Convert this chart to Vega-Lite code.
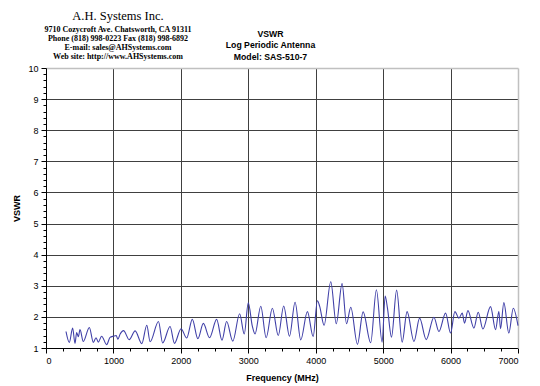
{
  "$schema": "https://vega.github.io/schema/vega-lite/v6.json",
  "width": 472,
  "height": 280,
  "autosize": {"type": "none"},
  "padding": {"left": 46, "top": 68, "right": 22, "bottom": 38},
  "background": "white",
  "config": {
    "view": {"stroke": null},
    "axis": {"labelFont": "Liberation Sans", "titleFont": "Liberation Sans", "labelColor": "#000000", "titleColor": "#000000"}
  },
  "title": {
    "text": "A.H. Systems Inc.",
    "subtitle": ["9710 Cozycroft Ave. Chatsworth, CA 91311", "Phone (818) 998-0223 Fax (818) 998-6892", "E-mail: sales@AHSystems.com", "Web site: http://www.AHSystems.com"],
    "anchor": "start",
    "align": "center",
    "frame": "group",
    "dx": 72,
    "dy": 36,
    "font": "Liberation Serif",
    "fontSize": 12.5,
    "fontWeight": "normal",
    "color": "#000000",
    "subtitleFont": "Liberation Serif",
    "subtitleFontSize": 8,
    "subtitleFontWeight": "bold",
    "subtitleColor": "#000000",
    "subtitleLineHeight": 9,
    "subtitlePadding": 4
  },
  "data": {
    "values": [
      {"f": 297, "v": 1.53}, {"f": 346, "v": 1.18}, {"f": 395, "v": 1.64}, {"f": 430, "v": 1.15},
      {"f": 455, "v": 1.50}, {"f": 480, "v": 1.36}, {"f": 504, "v": 1.59}, {"f": 553, "v": 1.21},
      {"f": 643, "v": 1.66}, {"f": 702, "v": 1.18}, {"f": 742, "v": 1.33}, {"f": 776, "v": 1.19},
      {"f": 825, "v": 1.38}, {"f": 900, "v": 1.11}, {"f": 949, "v": 1.34}, {"f": 1002, "v": 1.38},
      {"f": 1041, "v": 1.40}, {"f": 1066, "v": 1.28}, {"f": 1100, "v": 1.45}, {"f": 1150, "v": 1.56},
      {"f": 1234, "v": 1.27}, {"f": 1322, "v": 1.55}, {"f": 1421, "v": 1.14}, {"f": 1495, "v": 1.73},
      {"f": 1544, "v": 1.20}, {"f": 1668, "v": 1.85}, {"f": 1730, "v": 1.16}, {"f": 1840, "v": 1.69},
      {"f": 1905, "v": 1.15}, {"f": 2003, "v": 1.62}, {"f": 2087, "v": 1.32}, {"f": 2170, "v": 1.92},
      {"f": 2252, "v": 1.30}, {"f": 2334, "v": 1.79}, {"f": 2425, "v": 1.33}, {"f": 2531, "v": 1.92},
      {"f": 2610, "v": 1.25}, {"f": 2679, "v": 1.85}, {"f": 2770, "v": 1.22}, {"f": 2872, "v": 2.10},
      {"f": 2940, "v": 1.45}, {"f": 3000, "v": 2.45}, {"f": 3060, "v": 1.70}, {"f": 3100, "v": 1.45},
      {"f": 3185, "v": 2.34}, {"f": 3265, "v": 1.33}, {"f": 3357, "v": 2.28}, {"f": 3445, "v": 1.40},
      {"f": 3525, "v": 2.35}, {"f": 3611, "v": 1.38}, {"f": 3694, "v": 2.47}, {"f": 3778, "v": 1.26},
      {"f": 3877, "v": 2.17}, {"f": 3962, "v": 1.37}, {"f": 4025, "v": 2.52}, {"f": 4059, "v": 2.34},
      {"f": 4124, "v": 1.73}, {"f": 4223, "v": 3.13}, {"f": 4305, "v": 1.78}, {"f": 4391, "v": 3.07},
      {"f": 4457, "v": 1.78}, {"f": 4520, "v": 2.31}, {"f": 4619, "v": 1.12}, {"f": 4703, "v": 2.16},
      {"f": 4815, "v": 1.17}, {"f": 4900, "v": 2.87}, {"f": 4985, "v": 1.19}, {"f": 5030, "v": 2.67},
      {"f": 5064, "v": 2.28}, {"f": 5124, "v": 1.35}, {"f": 5200, "v": 2.86}, {"f": 5282, "v": 1.19},
      {"f": 5355, "v": 2.17}, {"f": 5457, "v": 1.21}, {"f": 5541, "v": 1.96}, {"f": 5639, "v": 1.27},
      {"f": 5753, "v": 1.99}, {"f": 5827, "v": 1.53}, {"f": 5926, "v": 2.12}, {"f": 6000, "v": 1.48},
      {"f": 6064, "v": 2.17}, {"f": 6124, "v": 1.96}, {"f": 6173, "v": 2.12}, {"f": 6207, "v": 1.80},
      {"f": 6257, "v": 2.20}, {"f": 6346, "v": 1.64}, {"f": 6410, "v": 2.15}, {"f": 6479, "v": 1.61},
      {"f": 6593, "v": 2.33}, {"f": 6667, "v": 1.59}, {"f": 6716, "v": 2.17}, {"f": 6741, "v": 1.62},
      {"f": 6790, "v": 2.46}, {"f": 6864, "v": 1.48}, {"f": 6930, "v": 2.28}, {"f": 7000, "v": 1.72}
    ]
  },
  "resolve": {"axis": {"x": "independent", "y": "independent"}},
  "layer": [
    {
      "mark": {"type": "line", "strokeOpacity": 0},
      "encoding": {
        "x": {"field": "f", "type": "quantitative", "scale": {"domain": [0, 7000], "nice": false},
          "axis": {"orient": "top", "title": ["VSWR", "Log Periodic Antenna", "Model: SAS-510-7"], "titleFont": "Liberation Sans", "titleFontSize": 8.7, "titleFontWeight": "bold", "titleLineHeight": 11.5, "titleX": 224, "titlePadding": 7, "labels": false, "ticks": false, "grid": false, "domain": true, "domainColor": "#c0c0c0", "domainWidth": 1.5}},
        "y": {"field": "v", "type": "quantitative", "scale": {"domain": [1, 10], "nice": false},
          "axis": {"orient": "right", "title": null, "labels": false, "ticks": false, "grid": false, "domain": true, "domainColor": "#c0c0c0", "domainWidth": 1.5}}
      }
    },
    {
      "mark": {"type": "line", "strokeOpacity": 0},
      "encoding": {
        "x": {"field": "f", "type": "quantitative", "scale": {"domain": [0, 7000], "nice": false},
          "axis": {"orient": "bottom", "title": null, "values": [250, 500, 750, 1250, 1500, 1750, 2250, 2500, 2750, 3250, 3500, 3750, 4250, 4500, 4750, 5250, 5500, 5750, 6250, 6500, 6750], "labels": false, "ticks": true, "tickSize": 3, "tickColor": "#000000", "grid": false, "domain": false}},
        "y": {"field": "v", "type": "quantitative", "scale": {"domain": [1, 10], "nice": false},
          "axis": {"orient": "left", "title": null, "values": [1.2, 1.4, 1.6, 1.8, 2.2, 2.4, 2.6, 2.8, 3.2, 3.4, 3.6, 3.8, 4.2, 4.4, 4.6, 4.8, 5.2, 5.4, 5.6, 5.8, 6.2, 6.4, 6.6, 6.8, 7.2, 7.4, 7.6, 7.8, 8.2, 8.4, 8.6, 8.8, 9.2, 9.4, 9.6, 9.8], "labels": false, "ticks": true, "tickSize": 3, "tickColor": "#000000", "grid": false, "domain": false}}
      }
    },
    {
      "mark": {"type": "line", "color": "#4040a8", "strokeWidth": 1.1, "interpolate": "monotone"},
      "encoding": {
        "x": {"field": "f", "type": "quantitative", "scale": {"domain": [0, 7000], "nice": false},
          "axis": {"orient": "bottom", "title": "Frequency (MHz)", "format": "d", "titleFontSize": 9, "titleFontWeight": "bold", "titlePadding": 8, "values": [0, 1000, 2000, 3000, 4000, 5000, 6000, 7000], "labelFontSize": 9, "labelPadding": 3, "tickSize": 5, "tickColor": "#000000", "grid": true, "gridColor": {"condition": {"test": "datum.value == 7000 || datum.value == 0", "value": "rgba(0,0,0,0)"}, "value": "#404040"}, "gridWidth": 1, "domain": true, "domainColor": "#000000", "domainWidth": 1}},
        "y": {"field": "v", "type": "quantitative", "scale": {"domain": [1, 10], "nice": false},
          "axis": {"orient": "left", "title": "VSWR", "titleFontSize": 9, "titleFontWeight": "bold", "titlePadding": 6, "values": [1, 2, 3, 4, 5, 6, 7, 8, 9, 10], "labelFontSize": 9, "labelPadding": 3, "tickSize": 5, "tickColor": "#000000", "grid": true, "gridColor": {"condition": {"test": "datum.value == 10 || datum.value == 1", "value": "rgba(0,0,0,0)"}, "value": "#404040"}, "gridWidth": 1, "domain": true, "domainColor": "#000000", "domainWidth": 1}}
      }
    }
  ]
}
